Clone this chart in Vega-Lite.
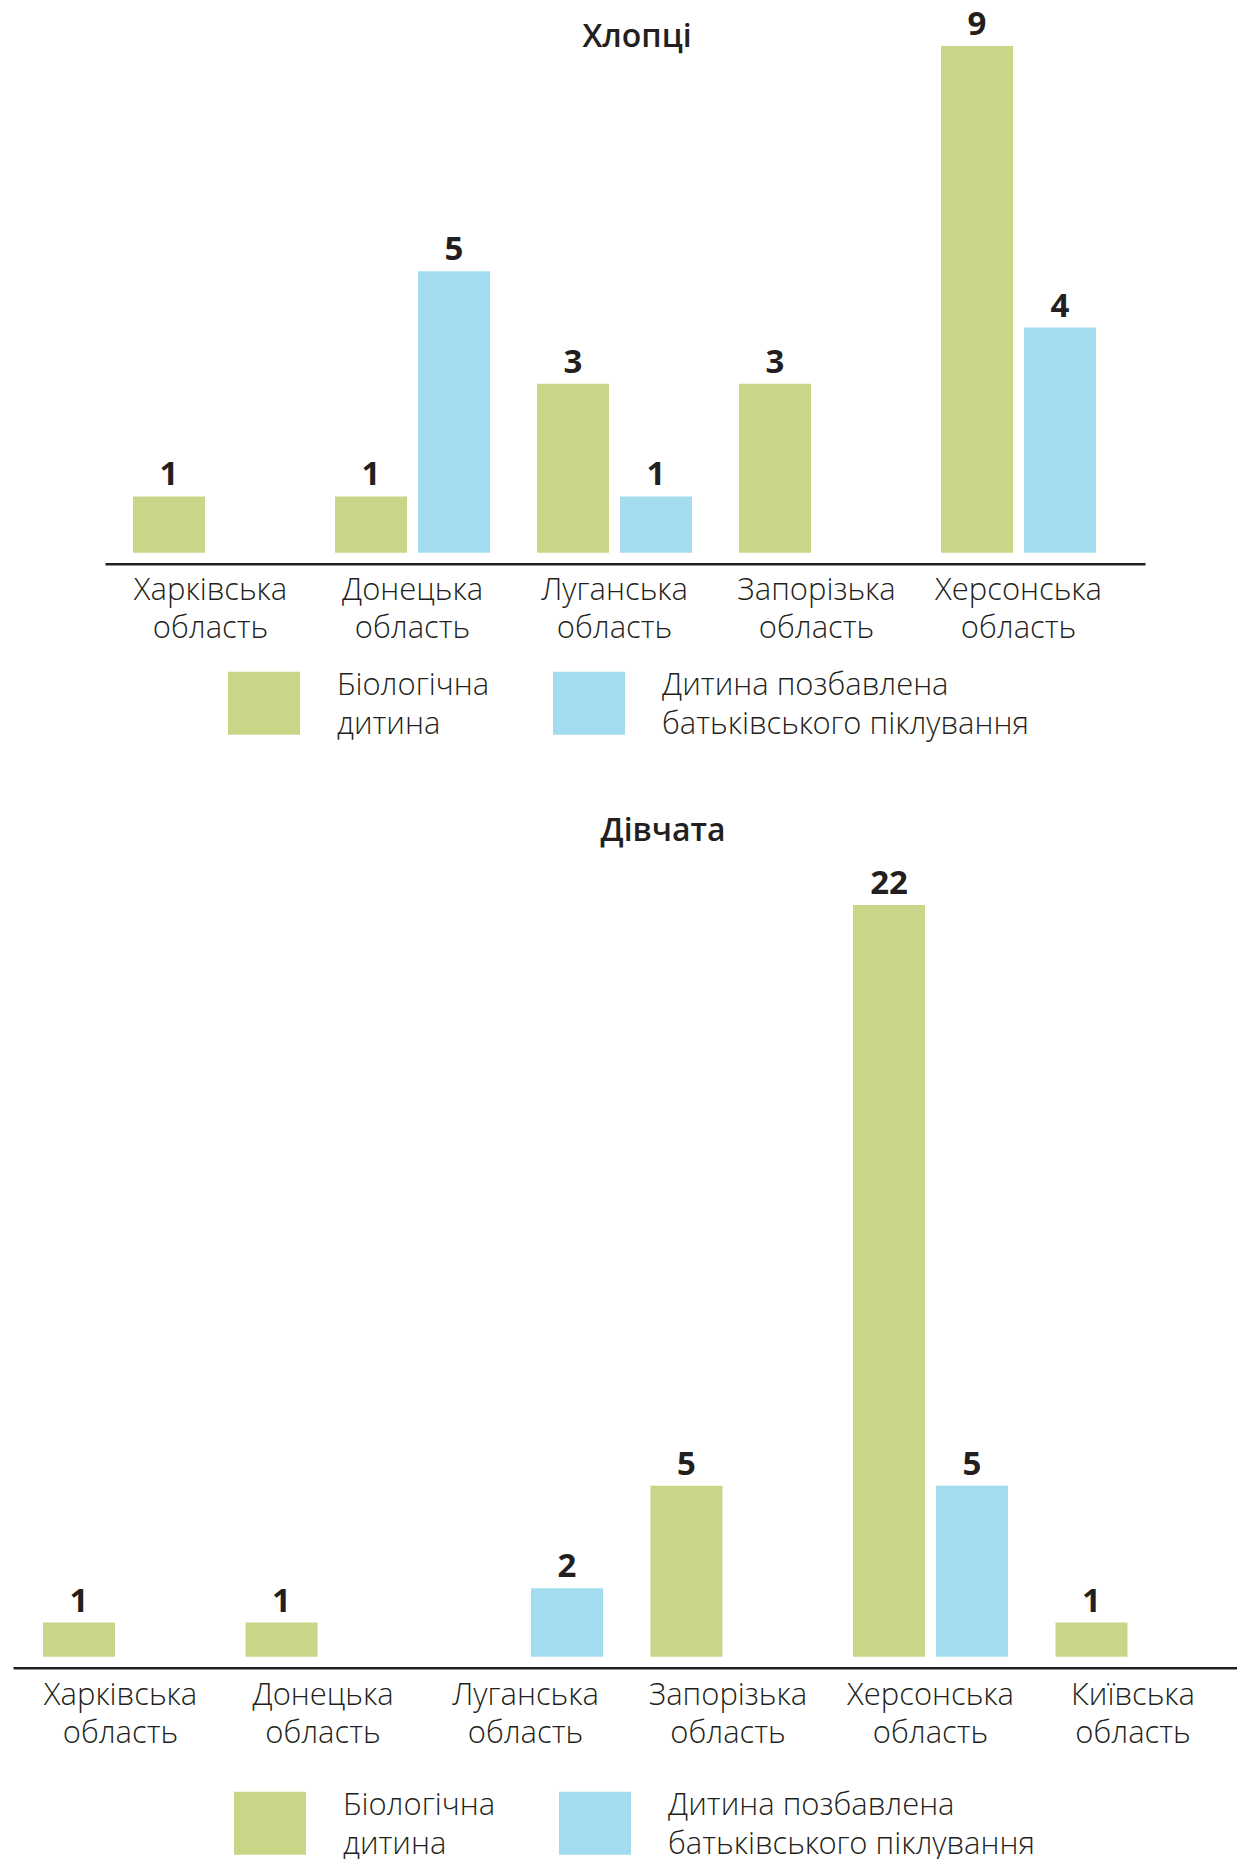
{
  "$schema": "https://vega.github.io/schema/vega-lite/v6.json",
  "padding": {"left": 13, "top": 9, "right": 0, "bottom": 0},
  "background": "white",
  "config": {
    "view": {"stroke": null},
    "font": "Open Sans",
    "text": {"font": "Open Sans", "color": "#231F20"}
  },
  "bounds": "flush",
  "center": true,
  "spacing": 352,
  "resolve": {
    "scale": {"x": "independent", "y": "independent", "xOffset": "independent", "color": "independent"},
    "legend": {"color": "independent"}
  },
  "vconcat": [
    {
      "width": 1040,
      "height": 506.7,
      "title": {"text": "Хлопці", "font": "Open Sans", "fontSize": 32, "fontWeight": 600, "color": "#231F20", "anchor": "middle", "frame": "group", "dx": 12, "offset": -45},
      "data": {"values": [
        {"region": "Харківська область", "type": "Біологічна дитина", "value": 1},
        {"region": "Донецька область", "type": "Біологічна дитина", "value": 1},
        {"region": "Донецька область", "type": "Дитина позбавлена батьківського піклування", "value": 5},
        {"region": "Луганська область", "type": "Біологічна дитина", "value": 3},
        {"region": "Луганська область", "type": "Дитина позбавлена батьківського піклування", "value": 1},
        {"region": "Запорізька область", "type": "Біологічна дитина", "value": 3},
        {"region": "Херсонська область", "type": "Біологічна дитина", "value": 9},
        {"region": "Херсонська область", "type": "Дитина позбавлена батьківського піклування", "value": 4}
      ]},
      "encoding": {
        "x": {
          "field": "region", "type": "nominal", "sort": null,
          "scale": {"paddingInner": 0.2327, "paddingOuter": 0.1906, "align": 0.364},
          "axis": {
            "title": null, "orient": "bottom", "offset": 11, "ticks": false,
            "domainColor": "#231F20", "domainWidth": 2.5,
            "labelExpr": "split(datum.label, ' ')", "labelLineHeight": 38,
            "labelFont": "Open Sans Light, Open Sans", "labelFontSize": 31, "labelFontWeight": 300, "labelColor": "#231F20",
            "labelPadding": 12, "labelLimit": 400, "labelAngle": 0, "labelOverlap": false
          }
        },
        "xOffset": {
          "field": "type", "type": "nominal",
          "scale": {"domain": ["Біологічна дитина", "Дитина позбавлена батьківського піклування"], "paddingInner": 0.1325, "paddingOuter": 0}
        },
        "y": {"field": "value", "type": "quantitative", "scale": {"domain": [0, 9], "nice": false, "zero": true}, "axis": null}
      },
      "layer": [
        {
          "mark": {"type": "bar"},
          "encoding": {
            "color": {
              "field": "type", "type": "nominal",
              "scale": {"domain": ["Біологічна дитина", "Дитина позбавлена батьківського піклування"], "range": ["#C9D688", "#A3DCEF"]},
              "legend": {
                "title": null, "orient": "none", "legendX": 123, "legendY": 621, "direction": "horizontal",
                "symbolType": "M-1,-0.875H1V0.875H-1Z", "symbolSize": 5184, "symbolStrokeWidth": 0, "symbolOpacity": 1,
                "labelFont": "Open Sans Light, Open Sans", "labelFontSize": 31, "labelFontWeight": 300, "labelColor": "#231F20",
                "labelLimit": 600, "labelOffset": 37, "columnPadding": 63,
                "labelExpr": "datum.label == 'Біологічна дитина' ? ['Біологічна', 'дитина'] : ['Дитина позбавлена', 'батьківського піклування']",
                "encode": {"labels": {"update": {"lineHeight": {"value": 39}, "dy": {"value": -17.5}}}}
              }
            }
          }
        },
        {
          "mark": {"type": "text", "baseline": "alphabetic", "dy": -11, "fontSize": 33, "fontWeight": "bold", "font": "Open Sans", "color": "#231F20"},
          "encoding": {"text": {"field": "value", "type": "quantitative"}}
        }
      ]
    },
    {
      "width": 1224,
      "height": 751.7,
      "title": {"text": "Дівчата", "font": "Open Sans", "fontSize": 32, "fontWeight": 600, "color": "#231F20", "anchor": "middle", "frame": "group", "dx": 38, "offset": 20},
      "data": {"values": [
        {"region": "Харківська область", "type": "Біологічна дитина", "value": 1},
        {"region": "Донецька область", "type": "Біологічна дитина", "value": 1},
        {"region": "Луганська область", "type": "Дитина позбавлена батьківського піклування", "value": 2},
        {"region": "Запорізька область", "type": "Біологічна дитина", "value": 5},
        {"region": "Херсонська область", "type": "Біологічна дитина", "value": 22},
        {"region": "Херсонська область", "type": "Дитина позбавлена батьківського піклування", "value": 5},
        {"region": "Київська область", "type": "Біологічна дитина", "value": 1}
      ]},
      "encoding": {
        "x": {
          "field": "region", "type": "nominal", "sort": null,
          "scale": {"paddingInner": 0.2346, "paddingOuter": 0.1395, "align": 0.531},
          "axis": {
            "title": null, "orient": "bottom", "offset": 11, "ticks": false,
            "domainColor": "#231F20", "domainWidth": 2.5,
            "labelExpr": "split(datum.label, ' ')", "labelLineHeight": 38,
            "labelFont": "Open Sans Light, Open Sans", "labelFontSize": 31, "labelFontWeight": 300, "labelColor": "#231F20",
            "labelPadding": 13, "labelLimit": 400, "labelAngle": 0, "labelOverlap": false
          }
        },
        "xOffset": {
          "field": "type", "type": "nominal",
          "scale": {"domain": ["Біологічна дитина", "Дитина позбавлена батьківського піклування"], "paddingInner": 0.1325, "paddingOuter": 0}
        },
        "y": {"field": "value", "type": "quantitative", "scale": {"domain": [0, 22], "nice": false, "zero": true}, "axis": null}
      },
      "layer": [
        {
          "mark": {"type": "bar"},
          "encoding": {
            "color": {
              "field": "type", "type": "nominal",
              "scale": {"domain": ["Біологічна дитина", "Дитина позбавлена батьківського піклування"], "range": ["#C9D688", "#A3DCEF"]},
              "legend": {
                "title": null, "orient": "none", "legendX": 221, "legendY": 882, "direction": "horizontal",
                "symbolType": "M-1,-0.875H1V0.875H-1Z", "symbolSize": 5184, "symbolStrokeWidth": 0, "symbolOpacity": 1,
                "labelFont": "Open Sans Light, Open Sans", "labelFontSize": 31, "labelFontWeight": 300, "labelColor": "#231F20",
                "labelLimit": 600, "labelOffset": 37, "columnPadding": 63,
                "labelExpr": "datum.label == 'Біологічна дитина' ? ['Біологічна', 'дитина'] : ['Дитина позбавлена', 'батьківського піклування']",
                "encode": {"labels": {"update": {"lineHeight": {"value": 39}, "dy": {"value": -17.5}}}}
              }
            }
          }
        },
        {
          "mark": {"type": "text", "baseline": "alphabetic", "dy": -11, "fontSize": 33, "fontWeight": "bold", "font": "Open Sans", "color": "#231F20"},
          "encoding": {"text": {"field": "value", "type": "quantitative"}}
        }
      ]
    }
  ]
}
